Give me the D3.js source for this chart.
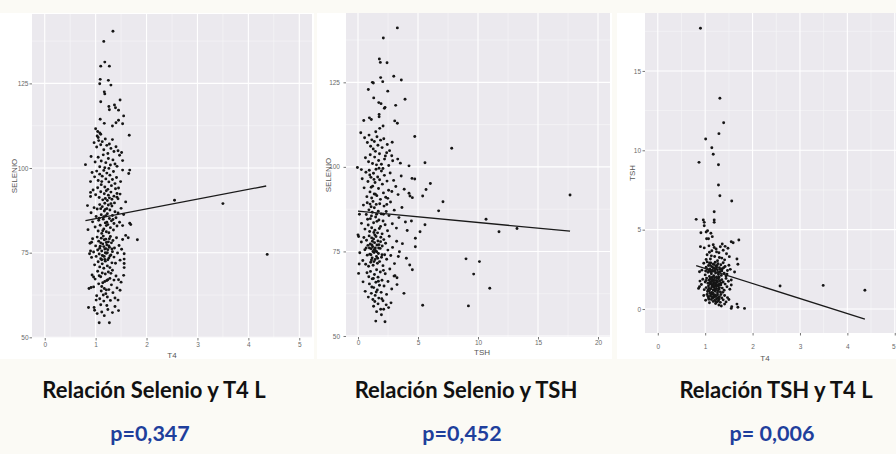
<!DOCTYPE html>
<html>
<head>
<meta charset="utf-8">
<script src="https://cdn.jsdelivr.net/npm/d3@7"></script>
<style>
  body { margin: 0; background: #fbfaf5; }
  svg { display: block; }
</style>
</head>
<body>
<div class="chart"></div>
<script>
// ---- data ----

// Relación Selenio y T4 L : [T4, SELENIO]
var selT4 = [
  [1.34,140.4],[1.16,137.4],[1.18,131.3],[1.10,130.1],[1.27,130.1],
  [1.09,126.2],[1.25,125.9],[1.08,124.9],[1.30,124.5],[1.17,122.5],[1.18,121.9],
  [1.10,119.6],[1.48,120.1],[1.26,118.2],[1.37,118.6],[1.27,117.2],[1.39,117.8],[1.45,117.1],
  [1.55,115.4],[1.09,114.4],[1.17,113.2],[1.33,112.4],[1.40,113.4],[1.45,114.1],[1.53,113.1],
  [1.00,111.6],[1.04,110.8],[1.08,110.4],[1.10,110.0],[1.03,109.5],[1.05,109.0],[1.66,109.7],
  [0.91,103.4],[0.80,101.0],[1.53,102.2],[1.53,99.4],[1.67,99.4],[1.65,98.4],
  [0.90,96.0],[0.90,92.8],[0.90,91.6],[0.84,88.9],[1.59,90.0],[1.42,92.5],[1.42,91.4],[1.37,89.7],
  [1.67,83.7],[1.69,83.3],[1.59,80.1],[1.64,79.4],[1.82,78.8],
  [2.55,90.5],[3.50,89.5],[4.37,74.5],
  [1.07,54.3],[1.27,54.3],[0.98,58.0],[1.12,57.5],[1.22,59.4],[0.86,58.8],[0.97,58.8],[1.45,57.9],[1.44,61.0],
  [1.55,68.3],[1.56,70.6],[1.56,71.8],[1.56,73.1],[1.56,74.7],
  [0.88,74.7],[0.90,75.5],[0.92,78.1],[0.85,81.8],[0.96,67.8],[0.87,64.4],[0.91,64.7],[1.01,61.0],
  [0.97,107.5],[1.02,106.2],[1.06,108.1],[1.10,106.9],[1.13,107.8],[1.16,105.4],[1.19,108.6],[1.22,106.7],
  [1.24,104.3],[1.27,107.1],[1.30,105.8],[1.33,108.4],[1.36,104.9],[1.40,106.3],[1.44,105.1],[1.47,103.8],
  [1.51,104.6],[1.05,103.2],[1.11,102.1],[1.15,103.9],[1.20,101.6],[1.25,102.8],[1.29,100.9],[1.34,102.4],
  [1.38,101.2],[1.42,100.5],[0.99,101.8],[1.08,100.4],[1.18,100.1],[1.26,99.9],
  [0.93,98.7],[0.98,97.4],[1.02,99.1],[1.05,96.3],[1.08,98.2],[1.11,95.1],[1.13,97.6],[1.16,99.3],
  [1.18,94.4],[1.20,96.8],[1.22,98.5],[1.24,93.7],[1.26,95.9],[1.28,97.9],[1.31,94.8],[1.33,96.6],
  [1.35,99.0],[1.38,95.4],[1.41,97.2],[1.45,94.1],[1.49,96.0],[0.95,93.5],[1.00,92.1],[1.04,94.2],
  [1.07,91.3],[1.10,93.0],[1.14,90.6],[1.17,92.4],[1.19,91.0],[1.21,93.3],[1.23,90.4],[1.25,92.0],
  [1.27,91.2],[1.30,92.9],[1.32,90.8],[1.36,91.7],[1.39,93.9],[1.44,90.9],[1.48,92.3],[1.12,96.0],
  [0.91,86.8],[0.94,84.1],[0.97,88.3],[0.99,82.6],[1.01,85.7],[1.03,87.9],[1.05,81.4],[1.06,84.6],
  [1.08,89.2],[1.09,83.1],[1.11,86.2],[1.12,80.7],[1.13,88.6],[1.15,84.9],[1.16,82.0],[1.17,87.3],
  [1.18,89.6],[1.19,83.8],[1.20,85.9],[1.21,81.2],[1.22,88.0],[1.23,86.5],[1.24,83.3],[1.25,89.1],
  [1.26,80.9],[1.27,85.1],[1.28,87.6],[1.29,82.4],[1.31,84.4],[1.32,88.8],[1.33,86.0],[1.35,81.7],
  [1.36,83.6],[1.38,87.1],[1.40,85.3],[1.42,82.9],[1.44,86.7],[1.47,84.0],[1.50,88.1],[1.53,83.0],
  [1.55,86.3],[1.14,81.5],[1.19,87.8],[1.22,84.0],[1.10,88.0],[1.07,85.2],[1.30,89.5],[1.34,84.8],
  [1.16,85.6],[1.21,83.0],
  [0.89,77.8],[0.92,73.6],[0.94,79.1],[0.96,75.2],[0.98,71.4],[1.00,77.0],[1.01,73.9],[1.03,79.6],
  [1.04,75.8],[1.05,72.3],[1.06,78.4],[1.07,74.6],[1.08,70.8],[1.09,76.9],[1.10,73.2],[1.11,79.3],
  [1.12,75.5],[1.13,71.7],[1.14,77.6],[1.15,74.0],[1.16,70.4],[1.17,78.8],[1.18,76.1],[1.19,72.5],
  [1.20,79.0],[1.21,74.8],[1.22,77.3],[1.23,71.1],[1.24,75.9],[1.25,78.2],[1.26,73.4],[1.27,76.6],
  [1.28,70.6],[1.29,79.8],[1.30,74.3],[1.31,77.9],[1.32,72.0],[1.33,75.3],[1.34,78.6],[1.36,73.7],
  [1.37,76.4],[1.39,71.9],[1.41,79.4],[1.43,74.9],[1.46,77.1],[1.48,72.8],[1.51,76.0],[1.53,78.9],
  [1.10,77.9],[1.13,74.2],[1.16,76.8],[1.18,73.0],[1.21,78.0],[1.23,75.0],[1.26,77.0],[1.28,74.0],
  [1.20,76.2],[1.15,79.9],[1.24,72.9],[1.08,76.3],[1.32,76.1],[1.19,75.0],[1.12,72.9],[1.27,79.1],
  [1.17,73.9],
  [0.93,68.4],[0.96,64.9],[0.99,67.2],[1.02,62.3],[1.04,69.5],[1.06,65.8],[1.08,61.4],[1.10,67.9],
  [1.11,63.7],[1.13,69.0],[1.14,66.1],[1.16,60.7],[1.17,64.4],[1.19,68.7],[1.20,62.9],[1.22,66.8],
  [1.23,61.9],[1.25,69.3],[1.26,64.1],[1.28,67.4],[1.29,60.9],[1.31,65.5],[1.33,69.8],[1.34,63.2],
  [1.36,66.9],[1.38,61.6],[1.40,68.1],[1.42,64.6],[1.45,67.0],[1.48,63.9],[1.50,66.3],[1.12,65.0],
  [1.18,66.5],[1.24,67.0],[1.21,64.0],[1.07,68.2],[1.30,68.9],[1.15,62.5],
  [1.03,57.0],[1.17,56.4],[1.24,58.2],[1.33,57.3],[1.10,59.6],[1.38,59.1]
];

// Relación Selenio y TSH : [TSH, SELENIO]
var selTsh = [
  [3.28,141.1],[2.11,138.1],[1.78,131.9],[1.86,130.9],[2.42,130.8],[2.98,126.8],[3.61,125.7],
  [1.89,126.4],[1.20,125.0],[1.28,124.8],[2.06,125.2],[2.48,122.4],[0.86,122.9],[1.31,120.4],
  [3.92,120.0],[1.73,119.0],[1.92,118.7],[2.25,117.6],[2.20,117.3],[3.14,118.2],[1.76,115.5],
  [1.76,114.8],[3.06,113.6],[3.28,112.9],[0.48,113.7],[0.95,114.5],[1.11,114.0],[0.23,110.1],
  [1.48,110.4],[1.81,111.4],[2.09,112.1],[4.73,109.0],[7.81,105.5],[2.39,104.2],[2.81,103.3],
  [2.89,101.8],[3.31,102.3],[3.53,101.1],[5.58,101.2],[4.25,100.3],[-0.05,99.8],[0.28,99.2],
  [6.03,95.1],[4.50,96.6],[4.73,96.4],[5.67,93.3],[4.25,92.2],[4.33,91.4],[4.53,90.9],[5.39,91.4],
  [7.08,89.7],[6.72,87.0],[17.67,91.7],[10.67,84.5],[11.75,80.8],[13.25,81.8],[5.17,80.8],[5.58,82.9],
  [9.00,72.8],[10.12,72.0],[9.64,68.3],[10.98,64.1],[9.20,58.9],[5.39,59.1],[3.83,62.6],
  [1.48,54.4],[2.25,54.2],[1.89,57.9],[2.14,57.9],[1.67,59.5],
  [0.00,79.9],[0.05,79.4],[0.10,71.3],[0.05,68.5],[4.78,76.4],[4.78,78.9],
  [4.31,71.0],[4.53,69.6],[4.03,73.0],[3.36,73.5],[3.08,67.8],[3.25,67.2],[4.45,84.0],[4.10,81.2],
  [0.55,108.6],[0.78,107.2],[0.92,109.4],[1.05,106.1],[1.15,108.0],[1.27,105.3],[1.36,107.5],
  [1.45,104.6],[1.58,108.9],[1.66,106.4],[1.79,103.9],[1.88,107.9],[2.01,105.7],[2.15,108.3],
  [2.28,103.2],[2.44,106.6],[2.63,104.8],[2.85,107.3],[0.62,102.7],[0.88,101.5],[1.02,103.6],
  [1.21,101.0],[1.39,102.9],[1.54,100.6],[1.72,101.9],[1.95,100.8],[2.21,102.3],[2.56,100.4],
  [0.35,96.5],[0.51,93.8],[0.66,98.4],[0.74,91.2],[0.83,95.7],[0.94,99.0],[1.00,92.6],[1.08,96.9],
  [1.14,90.8],[1.22,94.3],[1.29,98.1],[1.35,92.0],[1.42,95.4],[1.50,99.3],[1.57,91.5],[1.64,97.0],
  [1.71,93.6],[1.80,96.2],[1.87,90.4],[1.95,98.8],[2.03,94.9],[2.12,92.3],[2.20,97.5],[2.31,91.0],
  [2.42,95.8],[2.55,93.1],[2.68,98.2],[2.82,92.7],[2.97,96.0],[3.15,94.2],[3.34,91.8],[3.60,97.3],
  [3.85,93.4],[1.10,94.0],[1.45,91.9],[1.75,99.6],[0.98,97.6],[1.33,96.3],[2.08,99.5],[2.48,90.7],
  [0.12,86.0],[0.29,83.3],[0.45,88.7],[0.58,81.6],[0.69,85.9],[0.77,89.4],[0.85,82.8],[0.91,87.3],
  [0.97,80.9],[1.03,84.7],[1.09,88.2],[1.14,82.0],[1.19,86.6],[1.25,89.8],[1.30,83.5],[1.36,87.9],
  [1.41,81.3],[1.47,85.2],[1.52,88.9],[1.58,83.9],[1.63,80.5],[1.69,86.9],[1.74,84.3],[1.81,89.1],
  [1.88,82.4],[1.94,86.1],[2.01,80.2],[2.09,84.0],[2.17,88.4],[2.26,82.9],[2.35,86.8],[2.46,81.1],
  [2.58,85.6],[2.71,89.6],[2.86,83.2],[3.02,87.2],[3.20,81.9],[3.41,85.0],[3.66,88.0],[3.95,83.7],
  [1.12,85.5],[1.32,80.6],[1.55,86.0],[1.78,81.8],[2.12,86.0],[0.80,84.5],[1.00,89.0],[2.40,88.9],
  [0.15,74.6],[0.28,77.8],[0.40,72.3],[0.49,79.1],[0.57,75.5],[0.64,71.2],[0.71,78.3],[0.77,73.9],
  [0.83,76.8],[0.88,70.6],[0.93,79.6],[0.98,74.2],[1.02,77.2],[1.06,71.8],[1.10,75.8],[1.14,79.0],
  [1.18,73.1],[1.22,76.4],[1.26,70.9],[1.30,78.7],[1.34,74.7],[1.38,77.6],[1.42,72.6],[1.46,75.2],
  [1.50,79.4],[1.54,73.5],[1.58,76.9],[1.62,71.5],[1.66,78.1],[1.70,74.4],[1.75,77.0],[1.80,72.0],
  [1.85,75.9],[1.90,79.2],[1.96,73.3],[2.02,76.6],[2.08,70.8],[2.15,78.5],[2.22,74.0],[2.30,77.4],
  [2.39,72.7],[2.49,75.4],[2.60,79.5],[2.73,73.8],[2.88,76.2],[3.04,71.4],[3.22,78.0],[3.45,74.9],
  [3.70,77.3],[1.08,74.0],[1.20,78.0],[1.33,72.0],[1.44,76.0],[1.56,74.9],[1.72,76.0],[1.12,72.5],
  [1.25,75.0],[0.95,76.0],[1.40,79.9],[1.64,73.0],[1.88,77.9],[0.68,76.0],[2.00,74.0],[1.16,76.9],
  [1.36,75.6],
  [0.42,66.0],[0.60,63.2],[0.75,68.7],[0.86,61.5],[0.95,65.4],[1.04,69.1],[1.11,62.6],[1.18,66.9],
  [1.24,60.8],[1.31,64.3],[1.37,68.2],[1.43,62.0],[1.49,65.9],[1.55,69.6],[1.61,63.6],[1.67,67.4],
  [1.73,61.2],[1.79,65.0],[1.86,68.9],[1.93,62.9],[2.00,66.5],[2.08,60.4],[2.17,64.8],[2.27,68.4],
  [2.38,62.3],[2.50,66.1],[2.65,69.8],[2.81,63.9],[3.00,67.7],[3.25,65.2],[1.28,67.0],[1.52,63.0],
  [1.70,66.2],[0.90,67.5],[1.15,64.5],[2.12,69.4],[1.40,60.2],[1.98,61.0],
  [1.55,57.2],[1.95,56.3],[2.35,59.2],[2.55,58.4],[1.30,58.8],[2.75,59.8]
];

// Relación TSH y T4 L : [T4, TSH]
var tshT4 = [
  [0.90,17.69],[1.31,13.28],[1.39,11.74],[1.29,11.05],[1.01,10.71],[1.14,10.16],[1.17,9.75],
  [0.87,9.24],[1.28,9.09],[1.28,7.81],[1.31,7.14],[1.56,6.81],[1.19,6.13],[0.81,5.65],[0.96,5.61],
  [0.98,5.46],[0.98,5.25],[1.19,5.61],[1.19,5.46],[0.91,4.81],[1.02,4.85],[1.05,4.93],[1.12,4.77],
  [1.15,4.56],[1.03,4.43],[1.07,4.43],[0.90,3.93],[1.55,4.24],[1.59,4.18],[1.71,4.35],[1.67,3.15],
  [1.69,2.82],[1.62,2.33],[1.55,1.83],[1.55,1.51],[2.58,1.45],[3.49,1.49],[4.37,1.18],[1.83,0.04],
  [1.67,0.31],[1.69,0.11],[1.55,0.04],[1.56,0.15],[1.41,0.31],[0.88,1.41],[0.86,1.30],[0.89,1.76],
  [0.88,2.35],[1.23,0.46],[1.29,0.25],[1.34,0.19],
  [0.98,3.85],[1.04,3.42],[1.08,3.98],[1.11,3.15],[1.14,3.67],[1.17,4.05],[1.20,3.31],[1.23,3.78],
  [1.26,3.04],[1.29,3.55],[1.32,3.92],[1.35,3.21],[1.38,3.70],[1.41,3.10],[1.45,3.48],[1.48,3.83],
  [1.02,3.12],[1.13,3.35],[1.24,3.60],[1.30,3.25],[1.19,3.88],[1.36,4.10],[1.09,3.58],[1.42,3.95],
  [1.51,3.30],
  [0.93,2.45],[0.97,2.88],[1.00,2.15],[1.02,2.63],[1.04,2.97],[1.06,2.31],[1.07,2.74],[1.09,2.05],
  [1.10,2.52],[1.12,2.91],[1.13,2.22],[1.14,2.67],[1.16,2.38],[1.17,2.83],[1.18,2.10],[1.19,2.56],
  [1.21,2.95],[1.22,2.27],[1.23,2.70],[1.24,2.02],[1.26,2.47],[1.27,2.86],[1.28,2.18],[1.30,2.60],
  [1.31,2.35],[1.33,2.79],[1.34,2.12],[1.36,2.54],[1.38,2.92],[1.40,2.25],[1.42,2.68],[1.44,2.08],
  [1.47,2.43],[1.50,2.76],[1.05,2.50],[1.08,2.40],[1.11,2.75],[1.15,2.00],[1.20,2.40],[1.25,2.75],
  [1.29,2.00],[1.32,2.50],[1.12,2.35],[1.17,2.60],[1.22,2.50],[1.27,2.30],[1.35,2.40],[1.19,2.80],
  [1.24,2.60],[1.09,2.90],[1.15,2.45],[1.39,2.60],[1.01,2.40],[1.46,2.20],[1.53,2.50],
  [0.92,1.55],[0.95,1.88],[0.98,1.22],[1.00,1.70],[1.02,1.35],[1.03,1.95],[1.05,1.10],[1.06,1.62],
  [1.07,1.45],[1.08,1.83],[1.09,1.15],[1.10,1.58],[1.11,1.92],[1.12,1.28],[1.13,1.74],[1.14,1.05],
  [1.15,1.50],[1.16,1.86],[1.17,1.20],[1.18,1.66],[1.19,1.38],[1.20,1.97],[1.21,1.12],[1.22,1.55],
  [1.23,1.80],[1.24,1.30],[1.25,1.68],[1.26,1.02],[1.27,1.46],[1.28,1.90],[1.29,1.25],[1.30,1.60],
  [1.31,1.78],[1.32,1.08],[1.33,1.52],[1.35,1.85],[1.36,1.32],[1.38,1.70],[1.40,1.18],[1.42,1.57],
  [1.44,1.93],[1.46,1.40],[1.49,1.75],[1.52,1.25],[1.08,1.30],[1.11,1.70],[1.14,1.40],[1.17,1.55],
  [1.20,1.25],[1.23,1.45],[1.26,1.75],[1.29,1.50],[1.12,1.90],[1.16,1.00],[1.19,1.80],[1.22,1.20],
  [1.25,1.95],[1.10,1.00],[1.13,1.60],[1.18,1.45],[1.21,1.65],[1.24,1.55],[1.27,1.15],[1.30,1.35],
  [1.15,1.75],[1.06,1.20],[1.34,1.65],[1.09,1.65],[1.37,1.05],[1.02,1.80],
  [0.97,0.85],[1.01,0.55],[1.04,0.92],[1.07,0.70],[1.09,0.40],[1.11,0.82],[1.13,0.60],[1.15,0.95],
  [1.17,0.48],[1.19,0.75],[1.21,0.88],[1.22,0.35],[1.24,0.65],[1.26,0.90],[1.28,0.52],[1.30,0.78],
  [1.32,0.42],[1.35,0.70],[1.38,0.58],[1.41,0.85],[1.44,0.45],[1.47,0.72],[1.50,0.60],[1.12,0.95],
  [1.16,0.70],[1.20,0.55],[1.23,0.80],[1.27,0.70],[1.18,0.90],[1.14,0.78],[1.25,0.45],[1.08,0.62],
  [1.33,0.92],[1.06,0.80],[1.29,0.62]
];

// fitted lm lines (end points as seen in the picture)
var fitSelT4 = [[0.80, 84.5], [4.35, 94.7]];
var fitSelTsh = [[0.00, 86.9], [17.67, 81.0]];
var fitTshT4 = [[0.81, 2.73], [4.37, -0.63]];

// tick labels
var t4Ticks = [0, 1, 2, 3, 4, 5];
var tshTicks = [0, 5, 10, 15, 20];
var selTicks = [50, 75, 100, 125];
var tshYTicks = [0, 5, 10, 15];

// captions under the plots
var titles = ["Relación Selenio y T4 L", "Relación Selenio y TSH", "Relación TSH y T4 L"];
var pValues = ["p=0,347", "p=0,452", "p= 0,006"];

// ---- drawing ----
var svgWidth = 896;
var svgHeight = 454;

var svg = d3.select(".chart")
  .append("svg")
  .attr("width", svgWidth)
  .attr("height", svgHeight);

svg.append("rect")
  .attr("width", svgWidth)
  .attr("height", svgHeight)
  .attr("fill", "#fbfaf5");

var panels = [
  {
    box: [0, 13, 314, 346],
    left: 32, right: 312, top: 14, bottom: 338,
    xDomain: [-0.25, 5.25], yDomain: [49.8, 145.5],
    xTicks: t4Ticks, yTicks: selTicks,
    points: selT4, fit: fitSelT4,
    xTitle: "T4", yTitle: "SELENIO",
    xLabelY: 345, xTitleX: 172, xTitleY: 355, yLabelX: 28.5, yTitleX: 14,
    captionX: 154
  },
  {
    box: [317, 13, 295, 346],
    left: 346, right: 610, top: 13, bottom: 337,
    xDomain: [-1, 21], yDomain: [49.7, 145.5],
    xTicks: tshTicks, yTicks: selTicks,
    points: selTsh, fit: fitSelTsh,
    xTitle: "TSH", yTitle: "SELENIO",
    xLabelY: 343, xTitleX: 482, xTitleY: 352.5, yLabelX: 340, yTitleX: 328,
    captionX: 466
  },
  {
    box: [617, 13, 279, 346],
    left: 645, right: 906.6, top: 13, bottom: 333,
    xDomain: [-0.27, 5.25], yDomain: [-1.51, 18.65],
    xTicks: t4Ticks, yTicks: tshYTicks,
    points: tshT4, fit: fitTshT4,
    xTitle: "T4", yTitle: "TSH",
    xLabelY: 347, xTitleX: 765, xTitleY: 358, yLabelX: 641, yTitleX: 632,
    captionX: 776
  }
];

// minor breaks sit halfway between the major ones (ggplot style)
function minorBreaks(ticks, domain) {
  var step = ticks[1] - ticks[0];
  var out = [];
  for (var v = ticks[0] - step / 2; v <= domain[1]; v += step) {
    if (v >= domain[0]) out.push(v);
  }
  return out;
}

panels.forEach(function(p, i) {

  // white picture box
  svg.append("rect")
    .attr("x", p.box[0])
    .attr("y", p.box[1])
    .attr("width", p.box[2])
    .attr("height", p.box[3])
    .attr("fill", "#ffffff");

  var xScale = d3.scaleLinear().domain(p.xDomain).range([p.left, p.right]);
  var yScale = d3.scaleLinear().domain(p.yDomain).range([p.bottom, p.top]);

  var g = svg.append("g");

  // grey panel
  g.append("rect")
    .attr("x", p.left)
    .attr("y", p.top)
    .attr("width", p.right - p.left)
    .attr("height", p.bottom - p.top)
    .attr("fill", "#ebe9ee");

  // grid lines
  g.selectAll(".xminor")
    .data(minorBreaks(p.xTicks, p.xDomain))
    .enter()
    .append("line")
    .attr("x1", d => xScale(d)).attr("x2", d => xScale(d))
    .attr("y1", p.top).attr("y2", p.bottom)
    .attr("stroke", "#f7f6f8").attr("stroke-width", 0.6);

  g.selectAll(".yminor")
    .data(minorBreaks(p.yTicks, p.yDomain))
    .enter()
    .append("line")
    .attr("x1", p.left).attr("x2", p.right)
    .attr("y1", d => yScale(d)).attr("y2", d => yScale(d))
    .attr("stroke", "#f7f6f8").attr("stroke-width", 0.6);

  g.selectAll(".xmajor")
    .data(p.xTicks)
    .enter()
    .append("line")
    .attr("x1", d => xScale(d)).attr("x2", d => xScale(d))
    .attr("y1", p.top).attr("y2", p.bottom)
    .attr("stroke", "#ffffff").attr("stroke-width", 1.1);

  g.selectAll(".ymajor")
    .data(p.yTicks)
    .enter()
    .append("line")
    .attr("x1", p.left).attr("x2", p.right)
    .attr("y1", d => yScale(d)).attr("y2", d => yScale(d))
    .attr("stroke", "#ffffff").attr("stroke-width", 1.1);

  // axes: tiny ticks and grey labels
  var xAxis = d3.axisBottom(xScale).tickValues(p.xTicks).tickFormat(d3.format("d")).tickSize(2.5);
  var yAxis = d3.axisLeft(yScale).tickValues(p.yTicks).tickFormat(d3.format("d")).tickSize(2.5);

  var xg = g.append("g")
    .attr("transform", `translate(0, ${p.bottom})`)
    .call(xAxis);
  xg.select(".domain").remove();
  xg.selectAll(".tick line").attr("stroke", "#777");
  xg.selectAll(".tick text")
    .attr("y", p.xLabelY - p.bottom)
    .attr("dy", "0.35em")
    .attr("fill", "#6a6a6a")
    .style("font-family", "Liberation Sans, Arial, sans-serif")
    .style("font-size", "6.5px")
    // keep the last label inside the page edge
    .attr("text-anchor", d => xScale(d) > svgWidth - 3 ? "end" : "middle")
    .attr("x", d => xScale(d) > svgWidth - 3 ? svgWidth - 1 - xScale(d) : 0);

  var yg = g.append("g")
    .attr("transform", `translate(${p.left}, 0)`)
    .call(yAxis);
  yg.select(".domain").remove();
  yg.selectAll(".tick line").attr("stroke", "#777");
  yg.selectAll(".tick text")
    .attr("x", p.yLabelX - p.left)
    .attr("fill", "#6a6a6a")
    .style("font-family", "Liberation Sans, Arial, sans-serif")
    .style("font-size", "6.5px");

  // axis titles
  g.append("text")
    .attr("x", p.xTitleX)
    .attr("y", p.xTitleY)
    .attr("dy", "0.35em")
    .attr("text-anchor", "middle")
    .attr("fill", "#555")
    .style("font-family", "Liberation Sans, Arial, sans-serif")
    .style("font-size", "8px")
    .text(p.xTitle);

  g.append("text")
    .attr("transform", `translate(${p.yTitleX}, ${(p.top + p.bottom) / 2}) rotate(-90)`)
    .attr("dy", "0.35em")
    .attr("text-anchor", "middle")
    .attr("fill", "#555")
    .style("font-family", "Liberation Sans, Arial, sans-serif")
    .style("font-size", "8px")
    .text(p.yTitle);

  // points
  g.selectAll(".pt")
    .data(p.points)
    .enter()
    .append("circle")
    .attr("cx", d => xScale(d[0]))
    .attr("cy", d => yScale(d[1]))
    .attr("r", 1.45)
    .attr("fill", "#151515");

  // regression line
  var line = d3.line()
    .x(d => xScale(d[0]))
    .y(d => yScale(d[1]));

  g.append("path")
    .datum(p.fit)
    .attr("d", line)
    .attr("fill", "none")
    .attr("stroke", "#1a1a1a")
    .attr("stroke-width", 1.3);

  // captions
  svg.append("text")
    .attr("x", p.captionX)
    .attr("y", 398)
    .attr("text-anchor", "middle")
    .attr("fill", "#111")
    .style("font-family", "Lato, sans-serif")
    .style("font-weight", "bold")
    .style("font-size", "22px")
    .text(titles[i]);

  svg.append("text")
    .attr("x", p.captionX - 4)
    .attr("y", 441)
    .attr("text-anchor", "middle")
    .attr("fill", "#1f3f9c")
    .style("font-family", "Lato, sans-serif")
    .style("font-weight", "bold")
    .style("font-size", "21.5px")
    .text(pValues[i]);
});
</script>
</body>
</html>
